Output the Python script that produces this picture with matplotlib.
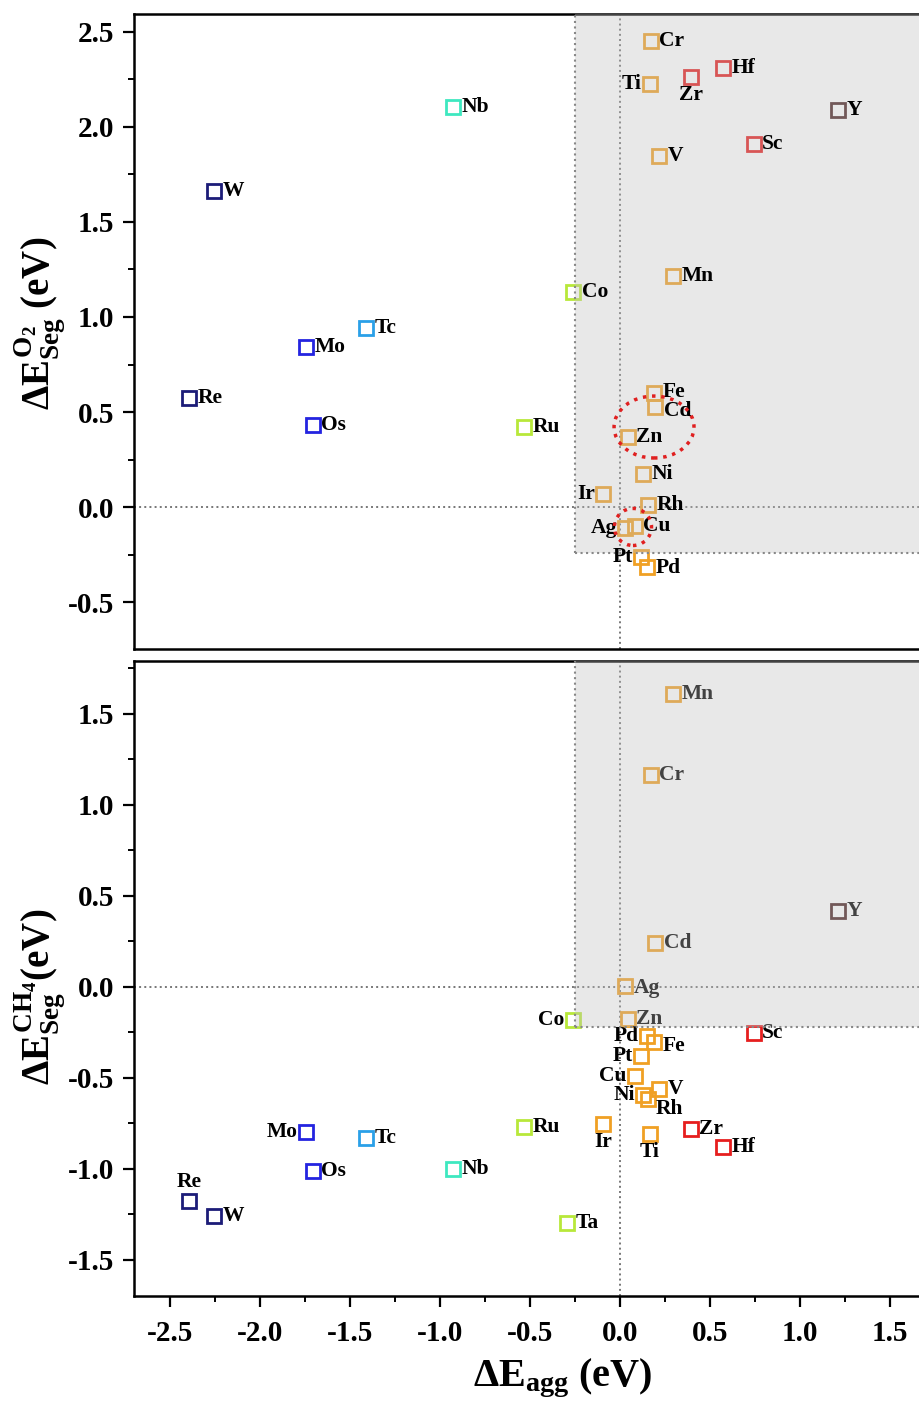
import matplotlib
matplotlib.use("Agg")
import matplotlib.pyplot as plt
from matplotlib.patches import Rectangle, Ellipse
import numpy as np

plt.rcParams['font.family'] = ['Liberation Serif', 'DejaVu Serif']
plt.rcParams['font.weight'] = 'bold'
plt.rcParams['axes.unicode_minus'] = False
plt.rcParams['mathtext.fontset'] = 'custom'
plt.rcParams['mathtext.rm'] = 'Liberation Serif:bold'
plt.rcParams['mathtext.it'] = 'Liberation Serif:bold'
plt.rcParams['mathtext.bf'] = 'Liberation Serif:bold'

# dopant elements, aggregation energy and segregation energies (eV)
elements = ['W', 'Re', 'Mo', 'Os', 'Tc', 'Nb', 'Ru', 'Co', 'Ta',
            'Cr', 'Ti', 'Zr', 'Hf', 'Y', 'Sc', 'V', 'Mn',
            'Fe', 'Cd', 'Zn', 'Ni', 'Ir', 'Rh', 'Ag', 'Cu', 'Pt', 'Pd']
e_agg = [-2.256, -2.394, -1.744, -1.706, -1.411, -0.928, -0.533, -0.26, -0.294,
         0.172, 0.165, 0.394, 0.572, 1.211, 0.744, 0.217, 0.294,
         0.19, 0.197, 0.044, 0.13, -0.094, 0.157, 0.028, 0.083, 0.118, 0.151]
e_seg_o2 = [1.663, 0.574, 0.842, 0.432, 0.942, 2.105, 0.421, 1.132, np.nan,
            2.453, 2.226, 2.263, 2.311, 2.089, 1.911, 1.847, 1.216,
            0.600, 0.526, 0.368, 0.174, 0.068, 0.011, -0.111, -0.100, -0.263, -0.316]
e_seg_ch4 = [-1.258, -1.176, -0.797, -1.011, -0.830, -1.000, -0.769, -0.185, -1.297,
             1.165, -0.809, -0.780, -0.883, 0.418, -0.253, -0.562, 1.610,
             -0.304, 0.242, -0.176, -0.593, -0.755, -0.617, 0.005, -0.493, -0.383, -0.269]
groups = ['navy', 'navy', 'blue', 'blue', 'sky', 'aqua', 'lime', 'lime', 'lime',
          'orange', 'orange', 'red', 'red', 'brown', 'red', 'orange', 'orange',
          'orange', 'orange', 'orange', 'orange', 'orange', 'orange', 'orange', 'orange', 'orange', 'orange']

colors = {'navy': '#1c1c78', 'blue': '#2424e0', 'sky': '#2aa0e8', 'aqua': '#3ee8c0',
          'lime': '#b8e83a', 'orange': '#f0a024', 'red': '#e61e1e', 'brown': '#4a2222'}

# label offsets (points) and alignment, default is to the right of the marker
LEFT = (-6, 0, 'right', 'center')
place_o2 = {'Ti': LEFT, 'Ir': LEFT, 'Ag': LEFT, 'Pt': LEFT,
            'Zr': (0, -6, 'center', 'top'), 'Pd': (6, -1, 'left', 'center'),
            'Fe': (6, 1, 'left', 'center'), 'Cd': (6, -3, 'left', 'center')}
place_ch4 = {'Co': LEFT, 'Pd': LEFT, 'Pt': LEFT, 'Cu': LEFT, 'Ni': LEFT, 'Mo': LEFT,
             'Rh': (5, -7, 'left', 'center'), 'Ir': (0, -6, 'center', 'top'),
             'Ti': (0, -6, 'center', 'top'), 'Re': (0, 6, 'center', 'bottom'),
             'Fe': (6, -3, 'left', 'center'), 'Ag': (6, -2, 'left', 'center')}

fig = plt.figure(figsize=(9.19, 14.05), dpi=100)
ax1 = fig.add_axes([0.1458, 0.5381, 0.8542, 0.4520])
ax2 = fig.add_axes([0.1458, 0.0776, 0.8542, 0.4520])


def draw_panel(ax, yvals, places, ylim, shade_y, text_on_top):
    for el, x, y, g in zip(elements, e_agg, yvals, groups):
        if np.isnan(y):
            continue
        ax.plot(x, y, marker='s', ms=9.5, mfc='none', mec=colors[g], mew=2, zorder=3)
        dx, dy, ha, va = places.get(el, (6, 0, 'left', 'center'))
        ax.annotate(el, (x, y), xytext=(dx, dy), textcoords='offset points',
                    ha=ha, va=va, fontsize=15.5, fontweight='bold', color='black',
                    zorder=5 if text_on_top else 3)
    ax.set_xlim(-2.70, 1.661)
    ax.set_ylim(*ylim)
    # shaded quadrant
    ax.add_patch(Rectangle((-0.25, shade_y), 5, 5, facecolor='#bebebe', alpha=0.35,
                           edgecolor='none', zorder=4))
    ax.plot([-0.25, -0.25], [shade_y, ylim[1]], ls=':', color='#888888', lw=1.5, zorder=4)
    ax.plot([-0.25, 1.7], [shade_y, shade_y], ls=':', color='#888888', lw=1.5, zorder=4)
    ax.axhline(0, ls=':', color='#777777', lw=1.4, zorder=2)
    ax.axvline(0, ls=':', color='#777777', lw=1.4, zorder=2)
    ax.spines['right'].set_visible(False)
    for s in ['left', 'top', 'bottom']:
        ax.spines[s].set_linewidth(1.8)
    ax.yaxis.set_major_locator(plt.MultipleLocator(0.5))
    ax.yaxis.set_minor_locator(plt.MultipleLocator(0.25))
    ax.xaxis.set_major_locator(plt.MultipleLocator(0.5))
    ax.xaxis.set_minor_locator(plt.MultipleLocator(0.25))
    ax.tick_params(which='major', direction='out', length=8, width=1.6, labelsize=21, pad=6)
    ax.tick_params(which='minor', direction='out', length=4, width=1.4)
    ax.tick_params(axis='x', pad=9)
    for lab in ax.get_yticklabels():
        lab.set_fontweight('bold')


draw_panel(ax1, e_seg_o2, place_o2, (-0.747, 2.595), -0.24, True)
draw_panel(ax2, e_seg_ch4, place_ch4, (-1.70, 1.79), -0.22, False)

ax1.tick_params(axis='x', which='both', bottom=False, labelbottom=False)
for lab in ax2.get_xticklabels():
    lab.set_fontweight('bold')

# regions of interest around Zn/Cd and Ag/Cu
ax1.add_patch(Ellipse((0.189, 0.421), 0.444, 0.326, fill=False, ec='#e02020',
                      ls=':', lw=2.5, zorder=6))
ax1.add_patch(Ellipse((0.072, -0.105), 0.206, 0.195, fill=False, ec='#e02020',
                      ls=':', lw=2.5, zorder=6))

fig.text(40 / 919, 1 - 323 / 1405, r'$\Delta E^{O_2}_{Seg}$ (eV)', rotation=90,
         ha='center', va='center', fontsize=28, fontweight='bold')
fig.text(40 / 919, 1 - 997 / 1405, r'$\Delta E^{CH_4}_{Seg}$(eV)', rotation=90,
         ha='center', va='center', fontsize=28, fontweight='bold')
fig.text(563 / 919, 1 - 1378 / 1405, r'$\Delta E_{agg}$ (eV)',
         ha='center', va='center', fontsize=29, fontweight='bold')

fig.savefig('out.png', dpi=100)
